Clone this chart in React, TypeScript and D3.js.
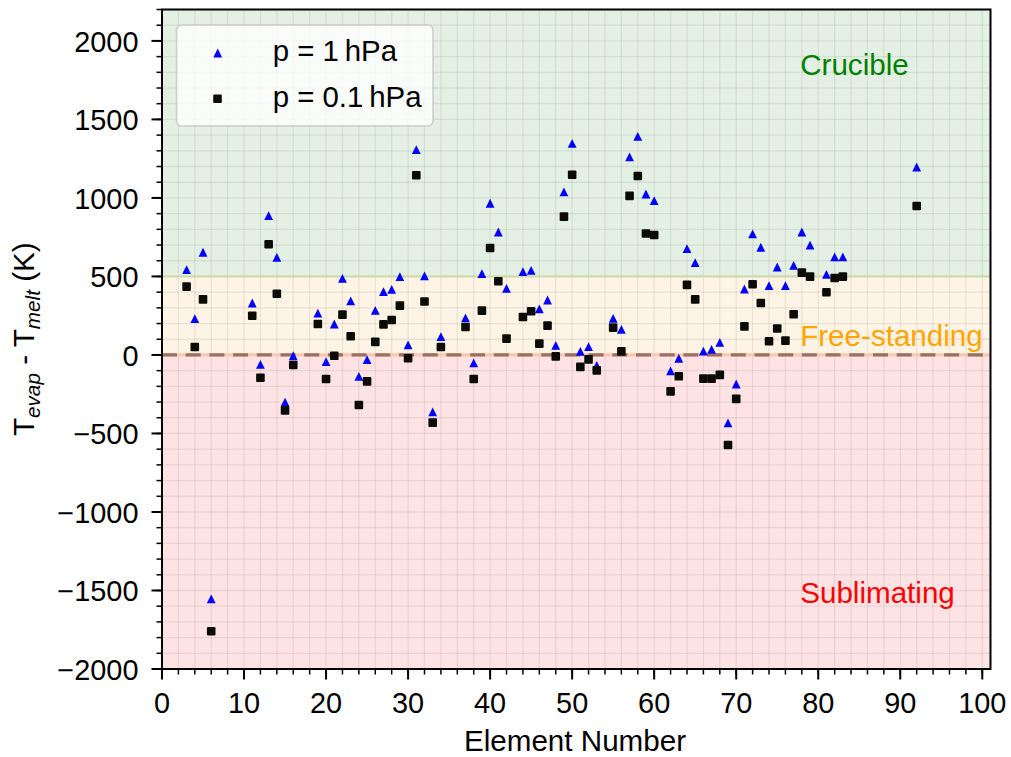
import React from "react";
import * as d3 from "d3";

const elements = [3,4,5,6,11,12,13,14,15,16,19,20,21,22,23,24,25,26,27,28,29,30,31,32,33,34,37,38,39,40,41,42,44,45,46,47,48,49,50,51,52,53,55,56,57,58,59,60,62,63,64,65,66,67,68,69,70,71,72,73,74,75,76,77,78,79,81,82,83,92];
const dT1hPa = [543,231,654,-1554,331,-60,887,622,-300,-5,267,-43,197,488,344,-136,-30,284,403,418,499,64,1308,503,-363,117,236,-51,518,966,783,424,531,539,293,350,61,1038,1348,23,53,-66,233,163,1261,1392,1025,983,-102,-21,677,588,25,36,80,-433,-185,420,771,686,441,560,441,571,783,700,513,624,624,1197];
const dT01hPa = [435,51,354,-1760,250,-145,705,390,-353,-64,197,-153,-5,257,119,-319,-168,83,195,223,314,-21,1144,340,-431,51,178,-153,282,681,469,104,242,278,72,187,-9,881,1148,-76,-28,-98,174,23,1013,1140,773,764,-232,-136,446,354,-151,-151,-127,-573,-280,182,450,331,87,168,91,259,524,499,399,490,499,949];

const xTicks = [0,10,20,30,40,50,60,70,80,90,100];
const yTicks = [-2000,-1500,-1000,-500,0,500,1000,1500,2000];
const legendLabels = ["p = 1\u2009hPa", "p = 0.1\u2009hPa"];
const regionNames = ["Crucible", "Free-standing", "Sublimating"];
const regionColors = ["#008000", "#ffa500", "#ff0000"];
const regionLabelY = [1781, 57, -1580];
const regionLabelX = 77.8;

const W = 1011, H = 757;
const L = 162, R = 990.5, T = 9.5, B = 669;
const FONT = "'Liberation Sans', Arial, sans-serif";
const FS = 29.6;
const FT = 28.9;
const FL = 29.4;

const fmt = (v: number) => (v < 0 ? "\u2212" + Math.abs(v) : String(v));

export default function App() {
  const x = d3.scaleLinear().domain([0, 101]).range([L, R]);
  const y = d3.scaleLinear().domain([-2000, 2200]).range([B, T]);
  const xMinor = d3.range(0, 101.01, 2);
  const yMinor = d3.range(-2000, 2200.1, 100);
  const tri = (cx: number, cy: number, s = 4.4) =>
    `M${cx},${cy - s}L${cx - s},${cy + s}L${cx + s},${cy + s}Z`;
  const sq = 8.6;

  return (
    <svg width={W} height={H} style={{ position: "absolute", left: 0, top: 0, background: "#fff" }} fontFamily={FONT}>
      {/* regions */}
      <rect x={L} y={T} width={R - L} height={y(500) - T} fill="#e5f0e4" />
      <rect x={L} y={y(500)} width={R - L} height={y(0) - y(500)} fill="#fdf4e5" />
      <rect x={L} y={y(0)} width={R - L} height={B - y(0)} fill="#fee3e4" />
      {/* grid */}
      <g stroke="#000" strokeOpacity={0.07} strokeWidth={1.3}>
        {xMinor.map((v) => (
          <line key={"gx" + v} x1={x(v)} x2={x(v)} y1={T} y2={B} />
        ))}
        {yMinor.map((v) => (
          <line key={"gy" + v} x1={L} x2={R} y1={y(v)} y2={y(v)} />
        ))}
      </g>
      <line x1={L} x2={R} y1={y(500)} y2={y(500)} stroke="#cbd9ad" strokeWidth={2} />
      <line x1={L} x2={R} y1={y(0)} y2={y(0)} stroke="#f8c8b0" strokeWidth={3.2} />
      <line x1={L} x2={R} y1={y(0)} y2={y(0)} stroke="#9d6f60" strokeWidth={3.2} strokeDasharray="15 8.7" />
      {/* data */}
      <g fill="#0000ff">
        {elements.map((z, i) => (
          <path key={"t" + z} d={tri(x(z), y(dT1hPa[i]))} />
        ))}
      </g>
      <g fill="#0c0c06">
        {elements.map((z, i) => (
          <rect key={"s" + z} x={x(z) - sq / 2} y={y(dT01hPa[i]) - sq / 2} width={sq} height={sq} rx={1} />
        ))}
      </g>
      {/* region labels */}
      {regionNames.map((n, i) => (
        <text key={n} x={x(regionLabelX)} y={y(regionLabelY[i])} fill={regionColors[i]} fontSize={FS}>
          {n}
        </text>
      ))}
      {/* spines */}
      <rect x={L} y={T} width={R - L} height={B - T} fill="none" stroke="#000" strokeWidth={2} />
      {/* ticks */}
      <g stroke="#000">
        {xMinor.map((v) => (
          <line key={"xm" + v} x1={x(v)} x2={x(v)} y1={B} y2={B + 5.5} strokeWidth={1.5} />
        ))}
        {xTicks.map((v) => (
          <line key={"xM" + v} x1={x(v)} x2={x(v)} y1={B} y2={B + 10.5} strokeWidth={2} />
        ))}
        {yMinor.map((v) => (
          <line key={"ym" + v} x1={L - 5.5} x2={L} y1={y(v)} y2={y(v)} strokeWidth={1.5} />
        ))}
        {yTicks.map((v) => (
          <line key={"yM" + v} x1={L - 10.5} x2={L} y1={y(v)} y2={y(v)} strokeWidth={2} />
        ))}
      </g>
      <g fontSize={FT} fill="#000">
        {xTicks.map((v) => (
          <text key={"xl" + v} x={x(v)} y={712.7} textAnchor="middle">
            {fmt(v)}
          </text>
        ))}
        {yTicks.map((v) => (
          <text key={"yl" + v} x={138.5} y={y(v) + 11} textAnchor="end">
            {fmt(v)}
          </text>
        ))}
      </g>
      <text x={575} y={751} textAnchor="middle" fontSize={FS}>
        Element Number
      </text>
      <text transform={`translate(33.5, ${(T + B) / 2}) rotate(-90)`} textAnchor="middle" fontSize={FS}>
        T
        <tspan fontSize={FS * 0.7} fontStyle="italic" dy={6}>evap</tspan>
        <tspan dy={-6}> - T</tspan>
        <tspan fontSize={FS * 0.7} fontStyle="italic" dy={6}>melt</tspan>
        <tspan dy={-6}> (K)</tspan>
      </text>
      {/* legend */}
      <rect x={176.5} y={25} width={256.5} height={101} rx={5} fill="#fff" fillOpacity={0.8} stroke="#cccccc" strokeWidth={1.5} />
      <path d={tri(217.7, 53)} fill="#0000ff" />
      <rect x={217.5 - sq / 2} y={98.7 - sq / 2} width={sq} height={sq} rx={1} fill="#0c0c06" />
      <text x={272.7} y={60.7} fontSize={FL}>{legendLabels[0]}</text>
      <text x={272.7} y={106.7} fontSize={FL}>{legendLabels[1]}</text>
    </svg>
  );
}
